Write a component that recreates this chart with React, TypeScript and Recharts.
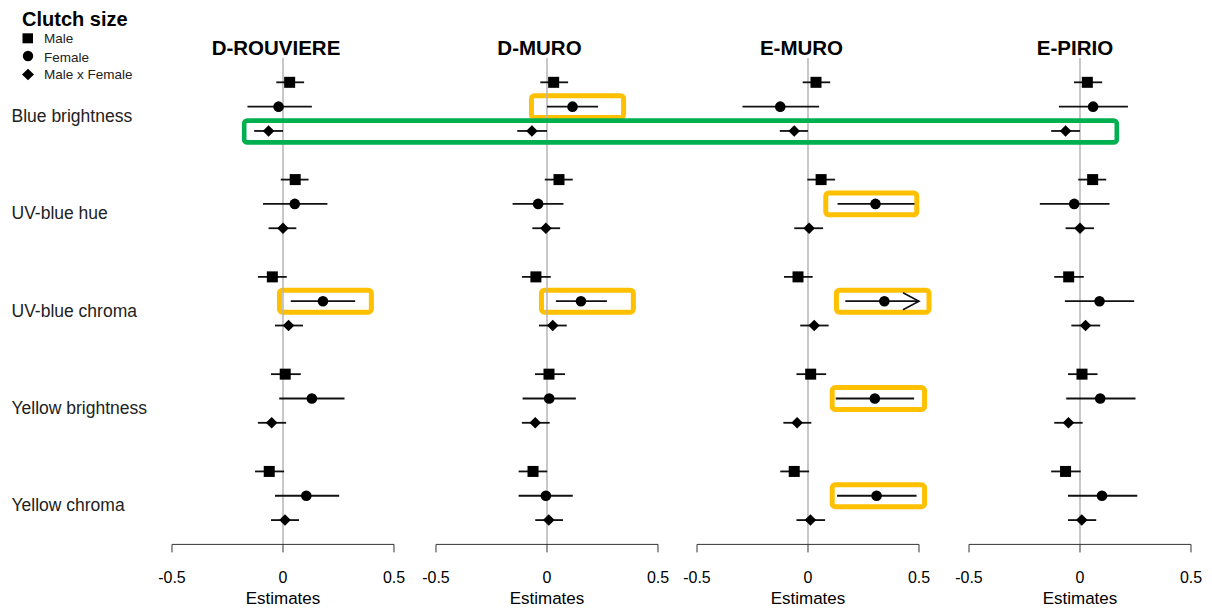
import React from 'react'
import {
  ScatterChart,
  Scatter,
  XAxis,
  YAxis,
  ErrorBar,
  ReferenceLine,
  ReferenceArea
} from 'recharts'

const FONT = '"Liberation Sans", Arial, Helvetica, sans-serif'

const traits = ['Blue brightness', 'UV-blue hue', 'UV-blue chroma', 'Yellow brightness', 'Yellow chroma']
const effects = ['Male', 'Female', 'Male x Female']
const populations = ['D-ROUVIERE', 'D-MURO', 'E-MURO', 'E-PIRIO']
const xTicks = [-0.5, 0, 0.5]

// [estimate, lower, upper] per trait, same order as `traits`
const rouviereMale = [[0.03, -0.03, 0.095], [0.055, -0.01, 0.115], [-0.048, -0.113, 0.017], [0.01, -0.054, 0.08], [-0.062, -0.126, 0.005]]
const rouviereFemale = [[-0.02, -0.16, 0.13], [0.053, -0.09, 0.2], [0.18, 0.035, 0.325], [0.13, -0.017, 0.277], [0.105, -0.036, 0.253]]
const rouviereMxF = [[-0.065, -0.13, 0.0], [0.0, -0.065, 0.06], [0.025, -0.036, 0.09], [-0.051, -0.113, 0.014], [0.009, -0.054, 0.072]]

const dMuroMale = [[0.03, -0.03, 0.095], [0.054, -0.01, 0.116], [-0.05, -0.113, 0.017], [0.009, -0.054, 0.081], [-0.063, -0.128, 0.001]]
const dMuroFemale = [[0.115, 0.0, 0.23], [-0.04, -0.155, 0.074], [0.153, 0.04, 0.27], [0.01, -0.11, 0.13], [-0.005, -0.128, 0.116]]
const dMuroMxF = [[-0.068, -0.134, 0.0], [-0.005, -0.066, 0.059], [0.026, -0.036, 0.089], [-0.053, -0.113, 0.012], [0.008, -0.053, 0.072]]

const eMuroMale = [[0.036, -0.024, 0.1], [0.059, -0.003, 0.122], [-0.045, -0.108, 0.021], [0.012, -0.052, 0.082], [-0.062, -0.125, 0.005]]
const eMuroFemale = [[-0.125, -0.295, 0.05], [0.304, 0.133, 0.48], [0.344, 0.168, 0.5], [0.301, 0.125, 0.478], [0.309, 0.131, 0.489]]
const eMuroMxF = [[-0.062, -0.127, 0.0], [0.005, -0.062, 0.068], [0.028, -0.035, 0.093], [-0.049, -0.111, 0.015], [0.011, -0.052, 0.077]]

const ePirioMale = [[0.033, -0.027, 0.1], [0.057, -0.008, 0.118], [-0.051, -0.116, 0.017], [0.009, -0.054, 0.079], [-0.065, -0.13, 0.003]]
const ePirioFemale = [[0.059, -0.095, 0.216], [-0.026, -0.181, 0.133], [0.088, -0.068, 0.244], [0.091, -0.062, 0.25], [0.099, -0.054, 0.258]]
const ePirioMxF = [[-0.065, -0.13, 0.0], [0.0, -0.065, 0.063], [0.025, -0.039, 0.091], [-0.052, -0.116, 0.012], [0.008, -0.054, 0.073]]

const popData = [
  [rouviereMale, rouviereFemale, rouviereMxF],
  [dMuroMale, dMuroFemale, dMuroMxF],
  [eMuroMale, eMuroFemale, eMuroMxF],
  [ePirioMale, ePirioFemale, ePirioMxF]
]

// orange highlight boxes (estimate units)
const highlights = [
  { pop: 0, trait: 2, effect: 1, x1: -0.016, x2: 0.398 },
  { pop: 1, trait: 0, effect: 1, x1: -0.07, x2: 0.345 },
  { pop: 1, trait: 2, effect: 1, x1: -0.025, x2: 0.389 },
  { pop: 2, trait: 1, effect: 1, x1: 0.08, x2: 0.49 },
  { pop: 2, trait: 2, effect: 1, x1: 0.128, x2: 0.545 },
  { pop: 2, trait: 3, effect: 1, x1: 0.109, x2: 0.525 },
  { pop: 2, trait: 4, effect: 1, x1: 0.109, x2: 0.525 }
]

const PLOT_LEFT = [172, 436, 697, 969]
const PLOT_W = 222
const SIDE = 30
const TOP = 58.4
const PLOT_H = 486.4
const AXIS_H = 59.2
const BOTTOM = 5
const ORANGE = '#FFC000'
const GREEN = '#00B050'

const Square = (p: any) => <rect x={p.cx - 5.5} y={p.cy - 5.5} width={11} height={11} fill="#000" />
const Dot = (p: any) => <circle cx={p.cx} cy={p.cy} r={5.3} fill="#000" />
const Diamond = (p: any) => (
  <polygon
    points={`${p.cx},${p.cy - 5.8} ${p.cx + 5.8},${p.cy} ${p.cx},${p.cy + 5.8} ${p.cx - 5.8},${p.cy}`}
    fill="#000"
  />
)
const Chevron = (p: any) => (
  <polyline
    points={`${p.cx - 16},${p.cy - 8.5} ${p.cx},${p.cy} ${p.cx - 16},${p.cy + 8.5}`}
    fill="none"
    stroke="#111"
    strokeWidth={1.6}
  />
)
const shapes = [Square, Dot, Diamond]

const rowPos = (trait: number, effect: number) => trait * 4 + effect

function Panel({ index }: { index: number }) {
  const series = popData[index].map((rows, effect) =>
    rows.map(([est, lo, hi], trait) => ({
      pos: rowPos(trait, effect),
      est,
      hi,
      err: [est - lo, hi - est]
    }))
  )
  // intervals cut at the axis limit get an arrow head
  const arrows = series.flat().filter(r => r.hi >= xTicks[2]).map(r => ({ pos: r.pos, est: r.hi }))
  const boxes = highlights.filter(h => h.pop === index)

  return (
    <div style={{ position: 'absolute', left: PLOT_LEFT[index] - SIDE, top: TOP }}>
      <ScatterChart
        width={PLOT_W + 2 * SIDE}
        height={PLOT_H + AXIS_H + BOTTOM}
        margin={{ top: 0, right: SIDE, bottom: BOTTOM, left: SIDE }}
        style={{ overflow: 'visible' }}
      >
        <XAxis
          type="number"
          dataKey="est"
          domain={[-0.5, 0.5]}
          ticks={xTicks}
          interval={0}
          tickSize={8}
          tickMargin={19.5}
          height={AXIS_H}
          stroke="#333"
          tick={{ fill: '#000', fontSize: 16, fontFamily: FONT }}
          tickFormatter={(v: number) => String(v)}
          label={{ value: 'Estimates', position: 'insideBottom', offset: 0, fill: '#000', fontSize: 17, fontFamily: FONT }}
        />
        <YAxis type="number" dataKey="pos" domain={[-1, 19]} reversed hide />
        <ReferenceLine x={0} stroke="#b5b5b5" strokeWidth={1.5} />
        {boxes.map((h, i) => (
          <ReferenceArea
            key={i}
            x1={h.x1}
            x2={h.x2}
            y1={rowPos(h.trait, h.effect) - 0.45}
            y2={rowPos(h.trait, h.effect) + 0.45}
            ifOverflow="visible"
            shape={(p: any) => (
              <rect x={p.x} y={p.y} width={p.width} height={p.height} rx={3} fill="none" stroke={ORANGE} strokeWidth={5} />
            )}
          />
        ))}
        {series.map((data, effect) => (
          <Scatter
            key={effects[effect]}
            name={effects[effect]}
            data={data}
            shape={shapes[effect]}
            isAnimationActive={false}
          >
            <ErrorBar dataKey="err" direction="x" width={0} stroke="#111" strokeWidth={1.8} />
          </Scatter>
        ))}
        <Scatter data={arrows} shape={Chevron} isAnimationActive={false} />
      </ScatterChart>
    </div>
  )
}

const titleX = [276, 539.5, 801.5, 1075]
const rowBaselines = [122, 219.3, 316.6, 413.9, 511.2]

export default function App() {
  return (
    <div style={{ position: 'absolute', left: 0, top: 0, width: 1212, height: 609, background: '#fff', fontFamily: FONT }}>
      {populations.map((_, i) => (
        <Panel key={i} index={i} />
      ))}
      <svg width={1212} height={609} style={{ position: 'absolute', left: 0, top: 0, pointerEvents: 'none' }}>
        <g fontFamily={FONT} fill="#000">
          <text x={22} y={25.5} fontSize={20} fontWeight="bold">Clutch size</text>
          <rect x={22.5} y={33.3} width={10.5} height={10} fill="#000" />
          <text x={44} y={43} fontSize={13.5} fill="#222">Male</text>
          <circle cx={28} cy={56} r={5.2} fill="#000" />
          <text x={44} y={61.5} fontSize={13.5} fill="#222">Female</text>
          <polygon points="28,68.8 34,74.5 28,80.2 22,74.5" fill="#000" />
          <text x={44} y={79} fontSize={13.5} fill="#222">Male x Female</text>
          {populations.map((p, i) => (
            <text key={p} x={titleX[i]} y={55} fontSize={20.5} fontWeight="bold" textAnchor="middle">{p}</text>
          ))}
          {traits.map((t, i) => (
            <text key={t} x={11.5} y={rowBaselines[i]} fontSize={17.5} fill="#222">{t}</text>
          ))}
        </g>
        <rect x={244.2} y={120.6} width={872.6} height={21.8} rx={3} fill="none" stroke={GREEN} strokeWidth={4.6} />
      </svg>
    </div>
  )
}
